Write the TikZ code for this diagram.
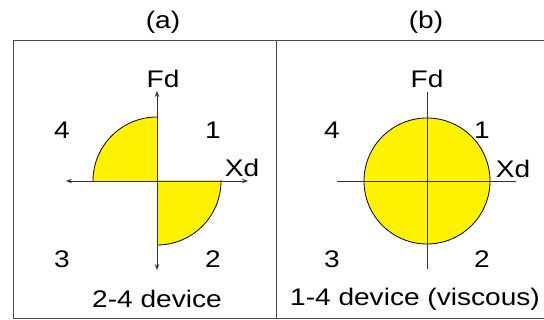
\documentclass[tikz,border=0pt]{standalone}
\usepackage{fontspec}
\usepackage{graphicx}
\setmainfont{Liberation Sans}
\usetikzlibrary{arrows.meta}
\newcommand{\wtxt}[1]{\scalebox{1.17}[1]{#1}}
\begin{document}
\begin{tikzpicture}[x=1pt,y=-1pt,
  lbl/.style={inner sep=0pt, font=\fontsize{24}{28}\selectfont},
  frameline/.style={draw=black!70, line width=1pt},
  axis/.style={draw=black!80, line width=0.9pt},
  axarrow/.style={axis, {Stealth[length=6pt,width=4.5pt]}-{Stealth[length=6pt,width=4.5pt]}},
  fillyel/.style={fill=yellow, draw=black, line width=0.8pt}]
\useasboundingbox (0,0) rectangle (544,320);
% frame
\coordinate (tl) at (13,41);
\coordinate (tr) at (544,41);
\coordinate (bl) at (13,319);
\coordinate (br) at (544,319);
\coordinate (mt) at (276,41);
\coordinate (mb) at (276,319);
\draw[frameline] (tr) -- (tl) -- (bl) -- (br);
\draw[frameline] (mt) -- (mb);
% titles
\node[lbl] (ta) at (163,22) {\wtxt{(a)}};
\node[lbl] (tb) at (426,22) {\wtxt{(b)}};
% panel a
\coordinate (oa) at (157,181);
\begin{scope}
  \clip (157,181) rectangle (80,105);
  \draw[fillyel] (oa) circle[radius=64];
\end{scope}
\begin{scope}
  \clip (157,181) rectangle (234,257);
  \draw[fillyel] (oa) circle[radius=64];
\end{scope}
\coordinate (aU) at (157,91);
\coordinate (aD) at (157,270);
\coordinate (aL) at (66,181);
\coordinate (aR) at (248,181);
\draw[axarrow] (aD) -- (aU);
\draw[axarrow] (aL) -- (aR);
\node[lbl] (fda) at (163,79) {\wtxt{Fd}};
\node[lbl] (xda) at (242,168) {\wtxt{Xd}};
\node[lbl] (a4) at (62,130) {\wtxt{4}};
\node[lbl] (a1) at (213,130) {\wtxt{1}};
\node[lbl] (a3) at (62,259) {\wtxt{3}};
\node[lbl] (a2) at (213,259) {\wtxt{2}};
\node[lbl] (capa) at (157,299) {\wtxt{2-4 device}};
% panel b
\coordinate (ob) at (427,181);
\draw[fillyel] (ob) circle[radius=63];
\coordinate (bU) at (427,92);
\coordinate (bD) at (427,269);
\coordinate (bL) at (337,181);
\coordinate (bR) at (516,181);
\draw[axis] (bD) -- (bU);
\draw[axis] (bL) -- (bR);
\node[lbl] (fdb) at (427,79) {\wtxt{Fd}};
\node[lbl] (xdb) at (513,169) {\wtxt{Xd}};
\node[lbl] (b4) at (332,130) {\wtxt{4}};
\node[lbl] (b1) at (482,130) {\wtxt{1}};
\node[lbl] (b3) at (332,259) {\wtxt{3}};
\node[lbl] (b2) at (482,259) {\wtxt{2}};
\node[lbl] (capb) at (415,299) {\wtxt{1-4 device (viscous)}};
\end{tikzpicture}
\end{document}
